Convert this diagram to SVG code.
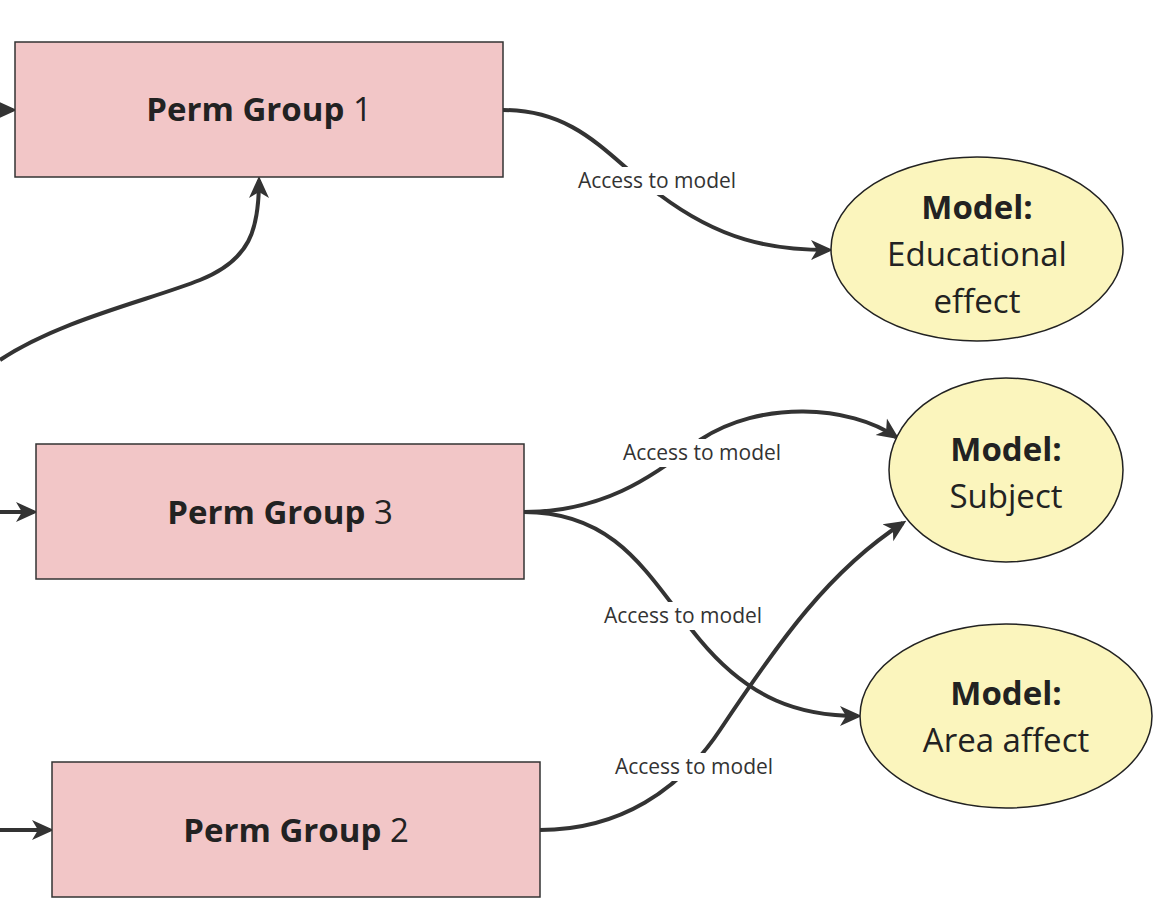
<svg xmlns="http://www.w3.org/2000/svg" width="1159" height="922" viewBox="0 0 1159 922">
<style>
.box{fill:#f2c6c7;stroke:#333;stroke-width:1.5}
.ell{fill:#fbf5bd;stroke:#222;stroke-width:1.5}
.t{font-family:"Open Sans","Noto Sans",sans-serif;font-size:33px;fill:#222;text-anchor:middle}
.m{font-size:33px}
.b{font-weight:bold}
.e{fill:none;stroke:#333;stroke-width:4;marker-end:url(#a)}
.l{font-family:"Open Sans","Noto Sans",sans-serif;font-size:21px;fill:#333;text-anchor:middle}
</style>
<defs><marker id="a" viewBox="0 0 22 22" refX="18" refY="11" markerWidth="22" markerHeight="22" markerUnits="userSpaceOnUse" orient="auto"><path d="M0,1 L22,11 L0,21 L6,11 Z" fill="#333"/></marker></defs>
<rect width="1159" height="922" fill="#fff"/>
<g id="edges">
<path class="e" d="M0,110 L13,110"/>
<path class="e" d="M0,512 L34,512"/>
<path class="e" d="M0,830 L50,830"/>
<path class="e" d="M0,360 C60,320 150,300 200,280 C250,260 259,230 259,180"/>
<path class="e" d="M503,110 C580,110 610,160 660,195 C720,240 770,250 829,250"/>
<path class="e" d="M524,512 C600,512 650,480 700,440 C760,400 850,405 896,437"/>
<path class="e" d="M524,512 C620,512 650,580 700,640 C750,700 800,716 858,716"/>
<path class="e" d="M540,830 C620,830 680,790 720,730 C780,640 830,570 903,523"/>
<rect x="572" y="167" width="172" height="28" fill="#fff"/>
<text class="l" x="657" y="188">Access to model</text>
<rect x="617" y="439" width="172" height="28" fill="#fff"/>
<text class="l" x="702" y="460">Access to model</text>
<rect x="597" y="602" width="172" height="28" fill="#fff"/>
<text class="l" x="683" y="623">Access to model</text>
<rect x="608" y="753" width="172" height="28" fill="#fff"/>
<text class="l" x="694" y="774">Access to model</text>
</g>
<g id="pg1"><rect class="box" x="15" y="42" width="488" height="135"/><text class="t" x="259" y="121"><tspan class="b">Perm Group</tspan> 1</text></g>
<g id="pg3"><rect class="box" x="36" y="444" width="488" height="135"/><text class="t" x="280" y="524"><tspan class="b">Perm Group</tspan> 3</text></g>
<g id="pg2"><rect class="box" x="52" y="762" width="488" height="135"/><text class="t" x="296" y="842"><tspan class="b">Perm Group</tspan> 2</text></g>
<g id="m1"><ellipse class="ell" cx="977" cy="249" rx="146" ry="92"/><text class="t" x="977" y="219"><tspan class="b">Model:</tspan><tspan x="977" dy="47">Educational</tspan><tspan x="977" dy="47">effect</tspan></text></g>
<g id="m2"><ellipse class="ell" cx="1006" cy="470" rx="117" ry="92"/><text class="t" x="1006" y="461"><tspan class="b">Model:</tspan><tspan x="1006" dy="47">Subject</tspan></text></g>
<g id="m3"><ellipse class="ell" cx="1006" cy="716" rx="146" ry="92"/><text class="t" x="1006" y="705"><tspan class="b">Model:</tspan><tspan x="1006" dy="47">Area affect</tspan></text></g>
</svg>
